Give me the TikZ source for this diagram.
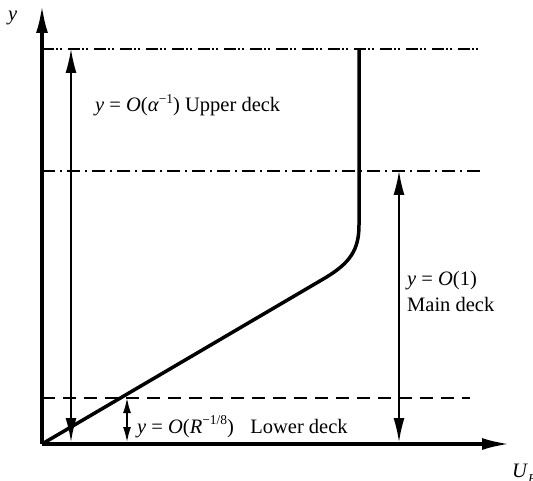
\documentclass[tikz,border=0pt]{standalone}
\usepackage{fontspec}
\setmainfont{Liberation Serif}
\usetikzlibrary{arrows.meta}
\newcommand{\supx}[1]{\raisebox{0.42em}{\fontsize{13.5}{13.5}\selectfont #1}}
\newcommand{\subx}[1]{\raisebox{-0.3em}{\fontsize{13.5}{13.5}\selectfont #1}}
\begin{document}
\begin{tikzpicture}[x=1pt,y=-1pt,
  axis/.style={line width=3.5pt, -{Latex[length=28pt,width=12pt]}},
  dimlong/.style={line width=1.5pt, {Latex[length=24pt,width=11pt]}-{Latex[length=24pt,width=11pt]}},
  dimshort/.style={line width=1.5pt, {Latex[length=15pt,width=8pt]}-{Latex[length=15pt,width=8pt]}},
  dashdotdot/.style={line width=1.8pt, dash pattern=on 12pt off 2pt on 2pt off 2pt on 2pt off 6pt},
  dashdotline/.style={line width=1.8pt, dash pattern=on 13pt off 5pt on 2pt off 5pt},
  dashline/.style={line width=1.8pt, dash pattern=on 13pt off 8pt},
  profile/.style={line width=3.5pt, line join=round},
  lbl/.style={font=\fontsize{20.5}{27}\selectfont, inner sep=0pt}]
\useasboundingbox (0,0) rectangle (533,481);
% axes
\coordinate (O) at (42,444);
\coordinate (ytop) at (42,5);
\coordinate (xend) at (510,444);
\draw[axis] (O) -- (ytop);
\draw[axis] (O) -- (xend);
% deck boundaries
\coordinate (u1) at (42,49);
\coordinate (u2) at (483,49);
\coordinate (m1) at (42,171);
\coordinate (m2) at (483,171);
\coordinate (l1) at (42,398);
\coordinate (l2) at (470,398);
\draw[dashdotdot] (u1) -- (u2);
\draw[dashdotline] (m1) -- (m2);
\draw[dashline] (l1) -- (l2);
% velocity profile
\coordinate (p1) at (325,278);
\coordinate (p2) at (359,225);
\coordinate (p3) at (359,49);
\draw[profile] (O) -- (p1) .. controls (350,263) and (359,250) .. (p2) -- (p3);
% dimension arrows
\coordinate (a1t) at (71,49);
\coordinate (a1b) at (71,442);
\coordinate (a2t) at (399,171);
\coordinate (a2b) at (399,442);
\coordinate (a3t) at (127,398);
\coordinate (a3b) at (127,442);
\draw[dimlong] (a1b) -- (a1t);
\draw[dimlong] (a2b) -- (a2t);
\draw[dimshort] (a3b) -- (a3t);
% labels
\node[lbl, anchor=base west] (ylab) at (8,21) {\textit{y}};
\node[lbl, anchor=base west] (ulab) at (95,112) {\textit{y} = \textit{O}(\textit{α}\supx{−1}) Upper deck};
\node[lbl, anchor=base west] (mlab1) at (407,285) {\textit{y} = \textit{O}(1)};
\node[lbl, anchor=base west] (mlab2) at (407,312) {Main deck};
\node[lbl, anchor=base west] (llab) at (137,433) {\textit{y} = \textit{O}(\textit{R}\supx{−1/8})\hspace{0.8em}Lower deck};
\node[lbl, anchor=base west] (xlab) at (512,477) {\textit{U}\subx{\textit{B}}};
\end{tikzpicture}
\end{document}
